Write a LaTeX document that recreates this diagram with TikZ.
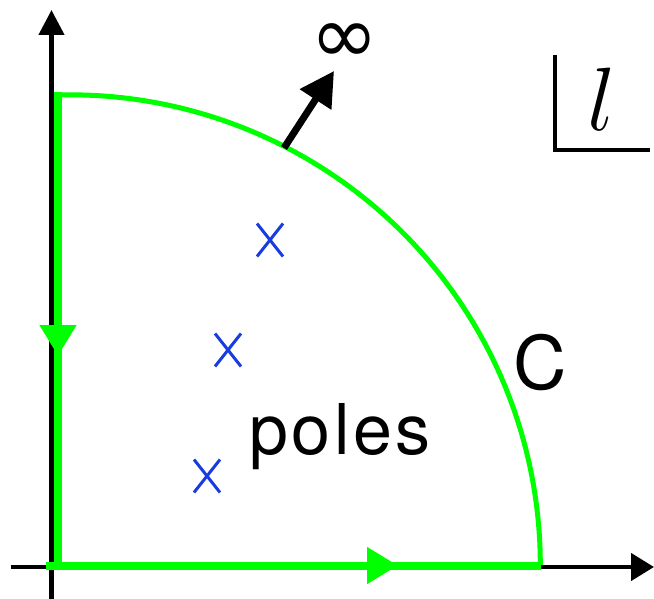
\RequirePackage{fix-cm}
\documentclass[tikz,border=0pt]{standalone}
\usepackage{fontspec}
\setmainfont{TeX Gyre Heros}
\newfontfamily\dejavu{DejaVu Sans}
\usetikzlibrary{arrows.meta}
\definecolor{cgreen}{RGB}{0,255,0}
\definecolor{cblue}{RGB}{25,60,225}

\begin{document}
\begin{tikzpicture}[x=1pt,y=-1pt,
  axis/.style={draw=black,line width=4.5pt},
  gline/.style={draw=cgreen,line width=8pt},
  garr/.style={gline,-{Triangle[length=31pt,width=35pt]}},
  arcl/.style={draw=cgreen,line width=5pt},
  pole/.style={draw=cblue,line width=3pt},
  lbl/.style={inner sep=0pt}]
\useasboundingbox (0,0) rectangle (654,599);
% axes
\coordinate (yb) at (51.5,599);
\coordinate (yt) at (51.5,10);
\coordinate (xl) at (11,567);
\coordinate (xr) at (654,567);
\draw[axis,-{Triangle[length=25pt,width=25pt]}] (yb) -- (yt);
\draw[axis,-{Triangle[length=23pt,width=27pt]}] (xl) -- (xr);
% contour C
\coordinate (tl) at (58,92);
\coordinate (vm) at (58,356);
\coordinate (org) at (58,566);
\coordinate (hs) at (46,565.5);
\coordinate (hm) at (398,565.5);
\coordinate (br) at (541,565.5);
\coordinate (ab) at (58,95);
\draw[arcl] (ab) arc[start angle=-91.5,end angle=0,radius=470];
\draw[gline] (tl) -- (org);
\draw[gline] (hs) -- (br);
\draw[garr] (tl) -- (vm);
\draw[garr] (hs) -- (hm);
% poles
\foreach \px/\py in {270/240,228/350,207/476}{
  \draw[pole] (\px-13,\py-16.5) -- (\px+13,\py+16.5) (\px-13,\py+16.5) -- (\px+13,\py-16.5);
}
% labels
\node[lbl] (inf) at (345,44) {\dejavu\fontsize{82}{82}\selectfont ∞};
\coordinate (as) at (284,148);
\coordinate (at) at (334,71);
\draw[line width=7pt,-{Triangle[length=34pt,width=36pt]}] (as) -- (at);
\node[lbl,anchor=base west] (poles) at (249,454)
  {\fontsize{70}{70}\selectfont\addfontfeature{LetterSpace=5}poles};
\node[lbl,anchor=base west] (cc) at (513,389) {\fontsize{74}{74}\selectfont C};
\node[lbl,anchor=base] (ll) at (602,131) {\fontsize{90}{90}\selectfont $l$};
\draw[line width=4pt] (555,55) -- (555,150) -- (650,150);
\end{tikzpicture}
\end{document}
